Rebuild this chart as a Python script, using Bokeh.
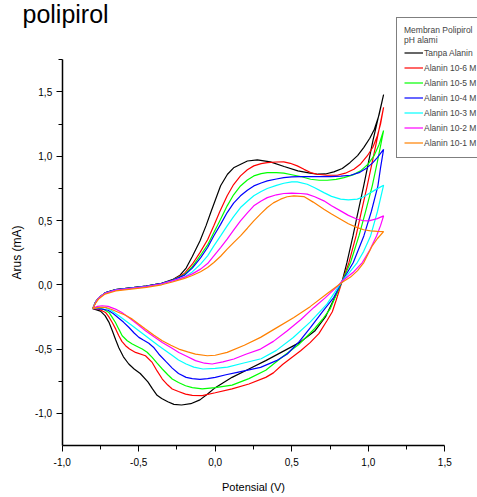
from bokeh.plotting import figure
from bokeh.models import Legend, LegendItem, FixedTicker, Label, Range1d
from bokeh.embed import file_html
from bokeh.resources import INLINE

# ---- data (potential V, current mA), full cyclic loop per series ----
series_names = ["Tanpa Alanin", "Alanin 10-6 M", "Alanin 10-5 M", "Alanin 10-4 M",
                "Alanin 10-3 M", "Alanin 10-2 M", "Alanin 10-1 M"]
series_colors = ["#000000", "#FF0000", "#00FF00", "#0000FF", "#00FFFF", "#FF00FF", "#FF8000"]

tanpa_alanin = [
    (-0.80, -0.185), (-0.78, -0.13), (-0.76, -0.10), (-0.72, -0.063), (-0.65, -0.038), (-0.55, -0.024),
    (-0.45, -0.01), (-0.35, 0.012), (-0.28, 0.04), (-0.23, 0.075), (-0.19, 0.13), (-0.15, 0.22),
    (-0.10, 0.34), (-0.06, 0.46), (-0.03, 0.56), (0.035, 0.77), (0.08, 0.86), (0.12, 0.91),
    (0.21, 0.963), (0.275, 0.971), (0.36, 0.956), (0.45, 0.92), (0.54, 0.886), (0.62, 0.868),
    (0.67, 0.86), (0.72, 0.862), (0.775, 0.878), (0.83, 0.905), (0.88, 0.95), (0.93, 1.005),
    (0.97, 1.067), (1.01, 1.14), (1.04, 1.21), (1.07, 1.32), (1.10, 1.48),
    (1.03, 1.12), (0.97, 0.77), (0.93, 0.55), (0.90, 0.38), (0.86, 0.17), (0.83, 0.03),
    (0.78, -0.10), (0.72, -0.25), (0.65, -0.36), (0.55, -0.45), (0.44, -0.52), (0.33, -0.59),
    (0.22, -0.655), (0.11, -0.72), (0.0, -0.80), (-0.05, -0.85), (-0.10, -0.895), (-0.16, -0.925),
    (-0.22, -0.935), (-0.27, -0.93), (-0.31, -0.91), (-0.35, -0.885), (-0.38, -0.86), (-0.41, -0.81),
    (-0.44, -0.755), (-0.49, -0.69), (-0.53, -0.655), (-0.565, -0.616), (-0.60, -0.56), (-0.63, -0.49),
    (-0.65, -0.43), (-0.675, -0.35), (-0.695, -0.29), (-0.72, -0.24), (-0.75, -0.205), (-0.80, -0.185),
]

alanin_1e6 = [
    (-0.80, -0.185), (-0.78, -0.13), (-0.76, -0.10), (-0.72, -0.063), (-0.65, -0.038), (-0.55, -0.024),
    (-0.45, -0.01), (-0.35, 0.012), (-0.28, 0.035), (-0.20, 0.09), (-0.15, 0.16), (-0.10, 0.25),
    (-0.05, 0.35), (-0.01, 0.458), (0.03, 0.57), (0.078, 0.692), (0.12, 0.78), (0.165, 0.847),
    (0.21, 0.895), (0.252, 0.925), (0.30, 0.942), (0.34, 0.95), (0.40, 0.955), (0.448, 0.956),
    (0.49, 0.945), (0.536, 0.925), (0.58, 0.898), (0.623, 0.873), (0.667, 0.86), (0.73, 0.852),
    (0.797, 0.852), (0.85, 0.868), (0.906, 0.899), (0.95, 0.94), (0.993, 1.002), (1.03, 1.07),
    (1.059, 1.158), (1.08, 1.25), (1.10, 1.38),
    (1.05, 1.09), (0.993, 0.77), (0.955, 0.57), (0.92, 0.38), (0.873, 0.17), (0.83, 0.03),
    (0.79, -0.12), (0.765, -0.21), (0.73, -0.28), (0.677, -0.38), (0.62, -0.45), (0.558, -0.513),
    (0.50, -0.565), (0.44, -0.62), (0.38, -0.685), (0.33, -0.72), (0.22, -0.772), (0.11, -0.81),
    (0.0, -0.84), (-0.085, -0.862), (-0.15, -0.86), (-0.194, -0.85), (-0.24, -0.83), (-0.281, -0.81),
    (-0.31, -0.78), (-0.346, -0.733), (-0.38, -0.67), (-0.412, -0.604), (-0.456, -0.552),
    (-0.521, -0.526), (-0.56, -0.50), (-0.586, -0.474), (-0.61, -0.44), (-0.63, -0.396),
    (-0.65, -0.345), (-0.673, -0.293), (-0.695, -0.25), (-0.717, -0.215), (-0.761, -0.189), (-0.80, -0.185),
]

alanin_1e5 = [
    (-0.80, -0.185), (-0.78, -0.13), (-0.76, -0.10), (-0.72, -0.063), (-0.65, -0.038), (-0.55, -0.024),
    (-0.45, -0.01), (-0.35, 0.012), (-0.28, 0.035), (-0.20, 0.08), (-0.15, 0.14), (-0.096, 0.23),
    (-0.05, 0.31), (-0.009, 0.406), (0.035, 0.51), (0.078, 0.614), (0.12, 0.70), (0.165, 0.769),
    (0.21, 0.815), (0.252, 0.847), (0.30, 0.865), (0.34, 0.873), (0.40, 0.873), (0.448, 0.868),
    (0.50, 0.856), (0.558, 0.842), (0.623, 0.821), (0.68, 0.813), (0.732, 0.813), (0.79, 0.82),
    (0.841, 0.834), (0.90, 0.855), (0.95, 0.886), (1.0, 0.94), (1.037, 1.002), (1.07, 1.09), (1.10, 1.20),
    (1.06, 0.96), (1.026, 0.77), (0.98, 0.56), (0.939, 0.38), (0.884, 0.173), (0.83, 0.03),
    (0.79, -0.08), (0.75, -0.19), (0.70, -0.27), (0.65, -0.34), (0.55, -0.46), (0.44, -0.56),
    (0.33, -0.665), (0.22, -0.73), (0.11, -0.78), (0.0, -0.80), (-0.085, -0.81), (-0.15, -0.80),
    (-0.194, -0.785), (-0.24, -0.76), (-0.281, -0.733), (-0.31, -0.70), (-0.346, -0.655), (-0.38, -0.61),
    (-0.412, -0.565), (-0.445, -0.525), (-0.477, -0.50), (-0.51, -0.48), (-0.542, -0.461),
    (-0.575, -0.435), (-0.608, -0.396), (-0.63, -0.345), (-0.652, -0.293), (-0.675, -0.25),
    (-0.695, -0.215), (-0.73, -0.19), (-0.761, -0.178), (-0.80, -0.185),
]

alanin_1e4 = [
    (-0.80, -0.185), (-0.78, -0.13), (-0.76, -0.10), (-0.72, -0.063), (-0.65, -0.038), (-0.55, -0.024),
    (-0.45, -0.01), (-0.35, 0.012), (-0.28, 0.035), (-0.20, 0.075), (-0.15, 0.13), (-0.096, 0.21),
    (-0.05, 0.29), (-0.009, 0.381), (0.035, 0.47), (0.078, 0.562), (0.12, 0.635), (0.165, 0.692),
    (0.21, 0.735), (0.252, 0.769), (0.30, 0.792), (0.34, 0.808), (0.40, 0.823), (0.448, 0.834),
    (0.50, 0.839), (0.558, 0.842), (0.65, 0.842), (0.754, 0.842), (0.82, 0.845), (0.884, 0.852),
    (0.94, 0.872), (0.993, 0.911), (1.03, 0.95), (1.059, 0.989), (1.10, 1.054),
    (1.08, 0.91), (1.063, 0.77), (1.02, 0.57), (0.971, 0.38), (0.902, 0.173), (0.83, 0.03),
    (0.775, -0.098), (0.70, -0.21), (0.623, -0.332), (0.55, -0.44), (0.471, -0.538), (0.40, -0.59),
    (0.296, -0.642), (0.22, -0.662), (0.144, -0.681), (0.07, -0.70), (0.0, -0.72), (-0.05, -0.73),
    (-0.10, -0.735), (-0.15, -0.73), (-0.19, -0.72), (-0.24, -0.69), (-0.281, -0.648), (-0.32, -0.60),
    (-0.368, -0.54), (-0.40, -0.49), (-0.434, -0.455), (-0.47, -0.43), (-0.499, -0.409),
    (-0.53, -0.375), (-0.565, -0.33), (-0.60, -0.29), (-0.63, -0.26), (-0.665, -0.225),
    (-0.70, -0.198), (-0.75, -0.188), (-0.80, -0.185),
]

alanin_1e3 = [
    (-0.80, -0.185), (-0.78, -0.133), (-0.76, -0.10), (-0.72, -0.066), (-0.65, -0.042), (-0.55, -0.028),
    (-0.45, -0.014), (-0.35, 0.006), (-0.28, 0.03), (-0.20, 0.06), (-0.15, 0.10), (-0.096, 0.161),
    (-0.05, 0.225), (-0.009, 0.303), (0.035, 0.38), (0.078, 0.458), (0.12, 0.53), (0.165, 0.601),
    (0.21, 0.65), (0.252, 0.692), (0.30, 0.725), (0.34, 0.749), (0.40, 0.773), (0.448, 0.79),
    (0.50, 0.80), (0.536, 0.80), (0.601, 0.782), (0.65, 0.755), (0.71, 0.717), (0.76, 0.688),
    (0.819, 0.666), (0.87, 0.66), (0.928, 0.666), (0.97, 0.685), (1.015, 0.717), (1.06, 0.748), (1.10, 0.775),
    (1.06, 0.57), (1.015, 0.38), (0.97, 0.26), (0.928, 0.173), (0.88, 0.10), (0.83, 0.03),
    (0.73, -0.15), (0.62, -0.29), (0.51, -0.41), (0.40, -0.51), (0.30, -0.575), (0.18, -0.61),
    (0.08, -0.64), (0.0, -0.65), (-0.08, -0.655), (-0.14, -0.64), (-0.19, -0.616), (-0.24, -0.585),
    (-0.28, -0.55), (-0.37, -0.474), (-0.456, -0.396), (-0.542, -0.319), (-0.63, -0.241),
    (-0.68, -0.20), (-0.717, -0.178), (-0.76, -0.176), (-0.80, -0.185),
]

alanin_1e2 = [
    (-0.80, -0.185), (-0.78, -0.133), (-0.76, -0.10), (-0.72, -0.066), (-0.65, -0.042), (-0.55, -0.028),
    (-0.45, -0.014), (-0.35, 0.008), (-0.28, 0.03), (-0.20, 0.06), (-0.15, 0.085), (-0.096, 0.122),
    (-0.05, 0.165), (-0.009, 0.225), (0.035, 0.29), (0.078, 0.355), (0.12, 0.425), (0.165, 0.497),
    (0.21, 0.56), (0.252, 0.614), (0.30, 0.652), (0.34, 0.678), (0.40, 0.70), (0.448, 0.71),
    (0.50, 0.713), (0.558, 0.71), (0.601, 0.705), (0.65, 0.685), (0.71, 0.653), (0.76, 0.615),
    (0.819, 0.575), (0.87, 0.54), (0.928, 0.51), (0.97, 0.498), (1.004, 0.497), (1.059, 0.515), (1.10, 0.536),
    (1.08, 0.46), (1.054, 0.38), (1.01, 0.27), (0.961, 0.173), (0.90, 0.095), (0.83, 0.03),
    (0.80, -0.01), (0.72, -0.10), (0.645, -0.176), (0.56, -0.27), (0.471, -0.357), (0.38, -0.44),
    (0.296, -0.50), (0.2, -0.54), (0.122, -0.577), (0.05, -0.60), (-0.02, -0.616), (-0.07, -0.61),
    (-0.129, -0.59), (-0.18, -0.56), (-0.238, -0.526), (-0.29, -0.488), (-0.346, -0.448),
    (-0.40, -0.405), (-0.456, -0.357), (-0.51, -0.305), (-0.565, -0.254), (-0.61, -0.215),
    (-0.652, -0.189), (-0.70, -0.168), (-0.739, -0.163), (-0.77, -0.168), (-0.80, -0.185),
]

alanin_1e1 = [
    (-0.80, -0.185), (-0.78, -0.14), (-0.76, -0.108), (-0.72, -0.072), (-0.65, -0.048), (-0.55, -0.034),
    (-0.45, -0.02), (-0.35, 0.0), (-0.28, 0.022), (-0.20, 0.05), (-0.15, 0.072), (-0.096, 0.101),
    (-0.05, 0.135), (-0.009, 0.173), (0.035, 0.222), (0.078, 0.277), (0.12, 0.328), (0.165, 0.381),
    (0.21, 0.44), (0.252, 0.497), (0.30, 0.555), (0.34, 0.601), (0.38, 0.637), (0.427, 0.666),
    (0.47, 0.685), (0.514, 0.692), (0.579, 0.686), (0.64, 0.643), (0.71, 0.588), (0.76, 0.55),
    (0.819, 0.51), (0.87, 0.475), (0.928, 0.445), (0.97, 0.428), (1.015, 0.42), (1.06, 0.416), (1.10, 0.414),
    (1.06, 0.36), (1.026, 0.303), (0.971, 0.173), (0.93, 0.11), (0.884, 0.06), (0.83, 0.02),
    (0.73, -0.07), (0.62, -0.17), (0.514, -0.254), (0.40, -0.335), (0.296, -0.409), (0.19, -0.47),
    (0.078, -0.526), (0.0, -0.548), (-0.052, -0.552), (-0.129, -0.539), (-0.18, -0.522),
    (-0.238, -0.50), (-0.29, -0.47), (-0.346, -0.435), (-0.40, -0.392), (-0.456, -0.344),
    (-0.50, -0.305), (-0.542, -0.267), (-0.59, -0.235), (-0.63, -0.215), (-0.68, -0.19),
    (-0.717, -0.176), (-0.76, -0.175), (-0.80, -0.185),
]

all_series = [tanpa_alanin, alanin_1e6, alanin_1e5, alanin_1e4, alanin_1e3, alanin_1e2, alanin_1e1]

x_major = [-1.0, -0.5, 0.0, 0.5, 1.0, 1.5]
x_minor = [-0.75, -0.25, 0.25, 0.75, 1.25]
x_labels = ["-1,0", "-0,5", "0,0", "0,5", "1,0", "1,5"]
y_major = [-1.0, -0.5, 0.0, 0.5, 1.0, 1.5]
y_minor = [-0.75, -0.25, 0.25, 0.75, 1.25, 1.75]
y_labels = ["-1,0", "-0,5", "0,0", "0,5", "1,0", "1,5"]
x_bounds = (-1.0, 1.5)
y_bounds = (-1.25, 1.75)

SANS = "Liberation Sans"

# ---- layout geometry (canvas pixels) ----
W, H = 477, 497
ax_left_px, ax_right_px = 61.7, 444.3      # pixel of x = -1.0 and x = 1.5
ax_top_px, ax_bottom_px = 59.3, 445.0      # pixel of y = 1.75 and y = -1.25
xs_per_px = (x_bounds[1] - x_bounds[0]) / (ax_right_px - ax_left_px)
ys_per_px = (y_bounds[1] - y_bounds[0]) / (ax_bottom_px - ax_top_px)
x_range = Range1d(x_bounds[0] - ax_left_px * xs_per_px, x_bounds[1] + (W - ax_right_px) * xs_per_px)
y_range = Range1d(y_bounds[0] - (H - ax_bottom_px) * ys_per_px, y_bounds[1] + ax_top_px * ys_per_px)

p = figure(width=W, height=H, x_range=x_range, y_range=y_range,
           output_backend="svg", toolbar_location=None,
           min_border_left=0, min_border_right=0, min_border_top=0, min_border_bottom=0)
p.grid.visible = False
p.outline_line_color = None
p.background_fill_color = "white"
p.border_fill_color = "white"

renderers = []
for data, col in zip(all_series, series_colors):
    xs = [d[0] for d in data]
    ys = [d[1] for d in data]
    r = p.line(xs, ys, line_color=col, line_width=1.2)
    renderers.append(r)

for ax, maj, mnr, labs, bnd, loc in ((p.xaxis[0], x_major, x_minor, x_labels, x_bounds, y_bounds[0]),
                                     (p.yaxis[0], y_major, y_minor, y_labels, y_bounds, x_bounds[0])):
    ax.ticker = FixedTicker(ticks=maj, minor_ticks=mnr)
    ax.major_label_overrides = {m: l for m, l in zip(maj, labs)}
    ax.bounds = bnd
    ax.fixed_location = loc
    ax.axis_line_color = "black"
    ax.axis_line_width = 1.5
    ax.major_tick_line_color = "black"
    ax.minor_tick_line_color = "black"
    ax.major_tick_out = 6
    ax.major_tick_in = 0
    ax.minor_tick_out = 4
    ax.minor_tick_in = 0
    ax.major_label_text_font = SANS
    ax.major_label_text_font_size = "10px"
    ax.major_label_text_color = "black"
    ax.major_label_standoff = 4
    ax.axis_label_text_font_style = "normal"
    ax.axis_label_text_color = "black"

p.xaxis.major_label_standoff = 6
p.xaxis.axis_label = "Potensial (V)"
p.xaxis.axis_label_text_font = SANS
p.xaxis.axis_label_text_font_size = "11px"
p.xaxis.axis_label_standoff = 12
p.yaxis.axis_label = "Arus (mA)"
p.yaxis.axis_label_text_font = SANS
p.yaxis.axis_label_text_font_size = "12px"
p.yaxis.axis_label_standoff = 8

legend = Legend(
    items=[LegendItem(label=n, renderers=[r]) for n, r in zip(series_names, renderers)],
    location=(396, H - 158),
    title="Membran Polipirol\npH alami",
    title_text_font=SANS, title_text_font_size="8.5px", title_text_font_style="normal",
    title_standoff=0,
    label_text_font=SANS, label_text_font_size="8.5px",
    glyph_width=19, glyph_height=15, label_height=15, label_standoff=1, label_width=70,
    spacing=0, padding=7, margin=0,
    border_line_color="black", border_line_width=1, background_fill_alpha=1.0,
)
p.add_layout(legend)

title = Label(x=22, y=H - 13, x_units="screen", y_units="screen", text="polipirol",
              text_font=SANS, text_font_size="25px", text_baseline="alphabetic",
              text_color="black")
p.add_layout(title)

open("out.html", "w").write(file_html(p, INLINE))
